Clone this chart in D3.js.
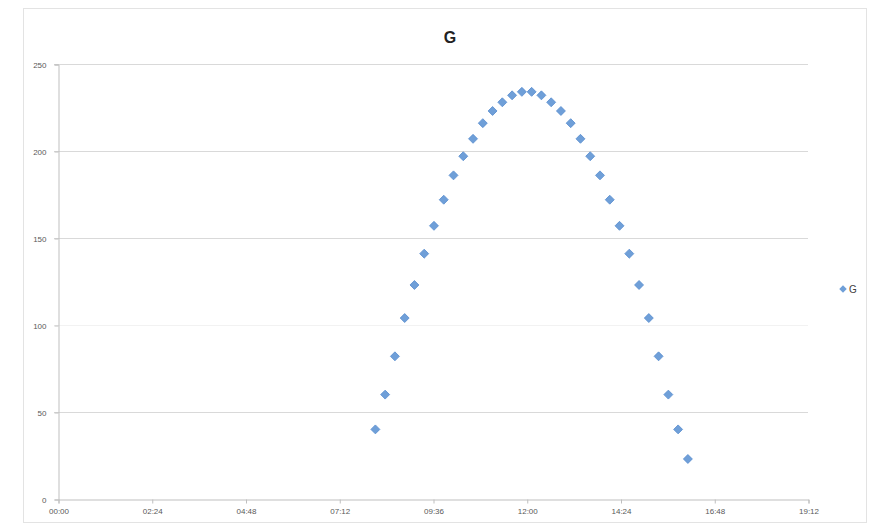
<!DOCTYPE html>
<html>
<head>
<meta charset="utf-8">
<script src="https://cdn.jsdelivr.net/npm/d3@7"></script>
<style>
  body { margin: 0; background: #fff; }
  text { font-family: "Liberation Sans", Arial, sans-serif; }
</style>
</head>
<body>
<script>
var width = 869, height = 525;

// data
var seriesName = "G";
var times = ["08:07:30","08:22:30","08:37:30","08:52:30","09:07:30","09:22:30","09:37:30","09:52:30",
             "10:07:30","10:22:30","10:37:30","10:52:30","11:07:30","11:22:30","11:37:30","11:52:30",
             "12:07:30","12:22:30","12:37:30","12:52:30","13:07:30","13:22:30","13:37:30","13:52:30",
             "14:07:30","14:22:30","14:37:30","14:52:30","15:07:30","15:22:30","15:37:30","15:52:30","16:07:30"];
var values = [40, 60, 82, 104, 123, 141, 157, 172,
              186, 197, 207, 216, 223, 228, 232, 234,
              234, 232, 228, 223, 216, 207, 197, 186,
              172, 157, 141, 123, 104, 82, 60, 40, 23];
var xTickLabels = ["00:00","02:24","04:48","07:12","09:36","12:00","14:24","16:48","19:12"];
var yTicks = [0, 50, 100, 150, 200, 250];

function toDay(s) {
  var p = s.split(":").map(Number);
  return (p[0] + p[1] / 60 + (p[2] || 0) / 3600) / 24;
}

var svg = d3.select("body").append("svg")
  .attr("width", width)
  .attr("height", height);

// chart frame
svg.append("rect")
  .attr("x", 23.5).attr("y", 8.5)
  .attr("width", 843).attr("height", 514)
  .attr("fill", "#fff")
  .attr("stroke", "#e3e3e3");

var plot = { left: 58, right: 808, top: 64, bottom: 499 };

var x = d3.scaleLinear().domain([0, 0.8]).range([plot.left, plot.right]);
var y = d3.scaleLinear().domain([0, 250]).range([plot.bottom, plot.top]);

// gridlines
svg.append("g")
  .selectAll("line")
  .data(yTicks.filter(function(d) { return d > 0; }))
  .enter().append("line")
  .attr("x1", plot.left - 4).attr("x2", plot.right)
  .attr("y1", function(d) { return Math.round(y(d)) + 0.5; })
  .attr("y2", function(d) { return Math.round(y(d)) + 0.5; })
  .attr("stroke", function(d) { return d == 100 ? "#f2f2f2" : "#d9d9d9"; })
  .attr("stroke-width", 1);

// y axis
var yAxis = d3.axisLeft(y).tickValues(yTicks).tickSize(4).tickPadding(8);
var gy = svg.append("g")
  .attr("transform", "translate(" + (plot.left + 0.5) + ",0.5)")
  .call(yAxis);
gy.select(".domain").attr("stroke", "#bfbfbf");
gy.selectAll(".tick line").attr("stroke", "#bfbfbf");
gy.selectAll("text").attr("fill", "#595959").style("font-size", "8px");

// x axis
var xAxis = d3.axisBottom(x)
  .tickValues(d3.range(0, xTickLabels.length).map(function(i) { return i * 0.1; }))
  .tickFormat(function(d, i) { return xTickLabels[i]; })
  .tickSize(4).tickPadding(5);
var gx = svg.append("g")
  .attr("transform", "translate(0.5," + (plot.bottom + 0.5) + ")")
  .call(xAxis);
gx.select(".domain").attr("stroke", "#bfbfbf");
gx.selectAll(".tick line").attr("stroke", "#bfbfbf");
gx.selectAll("text").attr("fill", "#595959").style("font-size", "8px");

// points: square turned 45deg, like the Excel diamond marker
var marker = d3.symbol().type(d3.symbolSquare).size(40);
svg.append("g")
  .selectAll("path")
  .data(values)
  .enter().append("path")
  .attr("d", marker)
  .attr("transform", function(d, i) { return "translate(" + x(toDay(times[i])) + "," + y(d) + ") rotate(45)"; })
  .attr("fill", "#6f9fd8")
  .attr("stroke", "#5b8fd0")
  .attr("stroke-width", 0.8)
  .attr("stroke-linejoin", "round");

// title
svg.append("text")
  .attr("x", 450).attr("y", 43)
  .attr("text-anchor", "middle")
  .style("font-size", "16px")
  .style("font-weight", "bold")
  .attr("fill", "#222")
  .text(seriesName);

// legend
svg.append("path")
  .attr("d", d3.symbol().type(d3.symbolSquare).size(28))
  .attr("transform", "translate(843,289) rotate(45)")
  .attr("fill", "#6f9fd8");
svg.append("text")
  .attr("x", 849).attr("y", 293)
  .style("font-size", "10px")
  .attr("fill", "#404040")
  .text(seriesName);
</script>
</body>
</html>
